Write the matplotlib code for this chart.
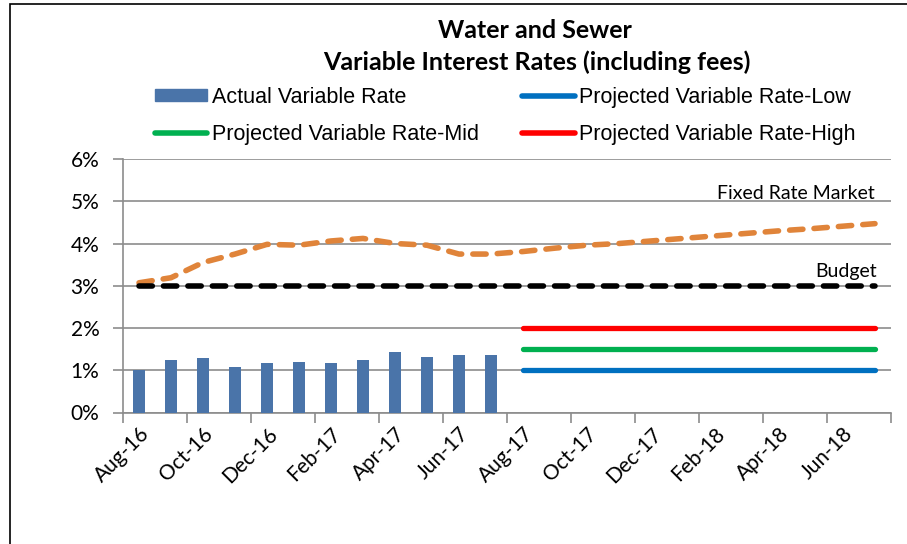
import numpy as np
import matplotlib
matplotlib.use("Agg")
import matplotlib.pyplot as plt
from matplotlib.patches import Rectangle, Patch
from matplotlib.lines import Line2D

# months shown on the category axis (one per category)
months = ["Aug-16", "Sep-16", "Oct-16", "Nov-16", "Dec-16", "Jan-17", "Feb-17", "Mar-17",
          "Apr-17", "May-17", "Jun-17", "Jul-17", "Aug-17", "Sep-17", "Oct-17", "Nov-17",
          "Dec-17", "Jan-18", "Feb-18", "Mar-18", "Apr-18", "May-18", "Jun-18", "Jul-18"]

# actual variable rate, Aug-16 .. Jul-17 (%)
actual = [1.01, 1.235, 1.28, 1.085, 1.16, 1.20, 1.17, 1.235, 1.425, 1.32, 1.355, 1.355]

# fixed rate market, all months (%)
fixed_market = [3.07, 3.19, 3.55, 3.75, 3.98, 3.96, 4.06, 4.12, 4.00, 3.96, 3.75, 3.75,
                3.81, 3.89, 3.96, 4.00, 4.06, 4.12, 4.18, 4.24, 4.30, 4.35, 4.41, 4.47]

budget = [3.0] * 24

# projections start Aug-17
proj_start = 12
proj_low = [1.0] * 12
proj_mid = [1.5] * 12
proj_high = [2.0] * 12

W, H = 907, 544
fig = plt.figure(figsize=(W / 100, H / 100), dpi=100)
fig.patches.append(Rectangle((10 / W, -0.1), 1.2, 1.1 - 4 / H, transform=fig.transFigure,
                             fill=False, edgecolor="black", linewidth=1.2))

ax = fig.add_axes([123 / W, 1 - 412.5 / H, (891 - 123) / W, (412.5 - 159) / H])

x = np.arange(len(months))
xa = np.arange(len(actual))
xp = np.arange(proj_start, proj_start + len(proj_low))

ax.bar(xa, actual, width=0.4, color="#4A74A9", zorder=3)
ax.plot(x, fixed_market, color="#E0843A", lw=4, dashes=(2.4, 2.0),
        dash_capstyle="round", zorder=4)
ax.plot(x, budget, color="black", lw=4, dashes=(2.4, 2.0),
        dash_capstyle="round", zorder=4)
ax.plot(xp, proj_high, color="#FF0000", lw=3.8, solid_capstyle="round", zorder=4)
ax.plot(xp, proj_mid, color="#00B050", lw=3.8, solid_capstyle="round", zorder=4)
ax.plot(xp, proj_low, color="#0070C0", lw=3.8, solid_capstyle="round", zorder=4)

ax.set_xlim(-0.5, len(months) - 0.5)
ax.set_ylim(0, 6)
ax.set_yticks(range(0, 7))
ax.set_yticklabels([f"{v}%" for v in range(0, 7)], fontsize=15, family="Lato")
ax.yaxis.grid(True, color="#8C8C8C", lw=1.2, zorder=0)

ax.set_xticks(np.arange(-0.5, len(months), 2))
ax.set_xticklabels([])
ax.set_xticks(x[::2], minor=True)
ax.set_xticklabels(months[::2], minor=True, rotation=45, ha="right",
                   rotation_mode="anchor", fontsize=15, family="Lato")
ax.tick_params(axis="x", which="minor", length=0, pad=8)
ax.tick_params(axis="y", pad=10)
ax.tick_params(axis="both", which="major", color="#8C8C8C", length=7, width=1.2)

for s in ["top", "right"]:
    ax.spines[s].set_visible(False)
for s in ["left", "bottom"]:
    ax.spines[s].set_color("#8C8C8C")
    ax.spines[s].set_linewidth(1.2)

ax.text(23.0, 5.05, "Fixed Rate Market", ha="right", va="baseline", fontsize=14, family="Lato")
ax.text(23.05, 3.2, "Budget", ha="right", va="baseline", fontsize=14, family="Lato")

fig.text(535 / W, 1 - 30 / H, "Water and Sewer", ha="center", va="center",
         fontsize=18, fontweight="bold", family="Lato")
fig.text(537 / W, 1 - 62 / H, "Variable Interest Rates (including fees)", ha="center",
         va="center", fontsize=18, fontweight="bold", family="Lato")

handles = [Patch(color="#4A74A9"),
           Line2D([], [], color="#00B050", lw=4, solid_capstyle="round"),
           Line2D([], [], color="#0070C0", lw=4, solid_capstyle="round"),
           Line2D([], [], color="#FF0000", lw=4, solid_capstyle="round")]
labels = ["Actual Variable Rate", "Projected Variable Rate-Mid",
          "Projected Variable Rate-Low", "Projected Variable Rate-High"]
fig.legend(handles, labels, loc="center", bbox_to_anchor=(505 / W, 1 - 116 / H), ncol=2,
           frameon=False, prop={"family": "Liberation Sans", "size": 15.5},
           handlelength=2.45, handleheight=0.5, handletextpad=0.2, columnspacing=2.0,
           labelspacing=0.75, borderpad=0)

fig.savefig("out.png", dpi=100)
